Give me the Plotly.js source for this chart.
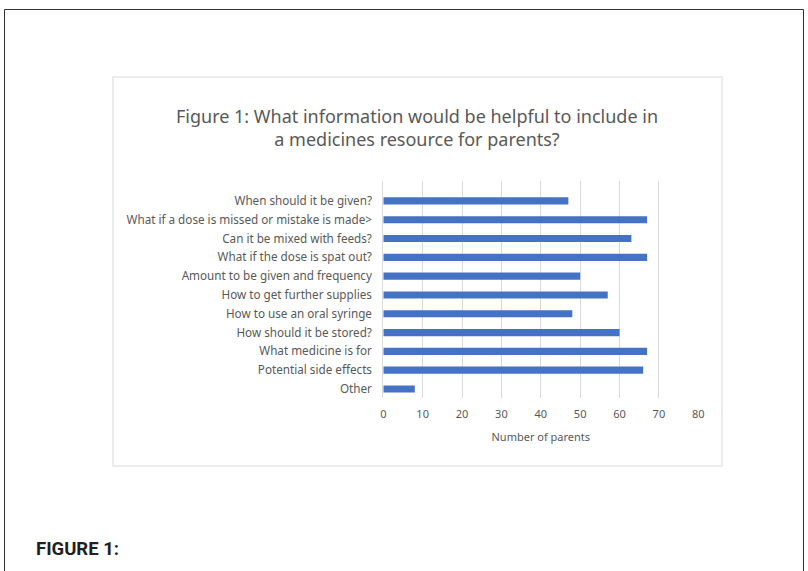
<!DOCTYPE html>
<html>
<head>
<meta charset="utf-8">
<script src="https://cdn.plot.ly/plotly-3.0.1.min.js"></script>
<style>
html,body{margin:0;padding:0;background:#fff;}
#chart{width:808px;height:571px;}
</style>
</head>
<body>
<div id="chart"></div>
<script>
const categories = [
  "When should it be given?",
  "What if a dose is missed or mistake is made>",
  "Can it be mixed with feeds?",
  "What if the dose is spat out?",
  "Amount to be given and frequency",
  "How to get further supplies",
  "How to use an oral syringe",
  "How should it be stored?",
  "What medicine is for",
  "Potential side effects",
  "Other"
];
const parents = [47, 67, 63, 67, 50, 57, 48, 60, 67, 66, 8];
const xTicks = [0, 10, 20, 30, 40, 50, 60, 70, 80];

const W = 808, H = 571;
const px = v => v / W;
const py = v => 1 - v / H;

const trace = {
  type: 'bar',
  orientation: 'h',
  x: parents,
  y: categories,
  marker: {color: '#4472C4'},
  width: 0.38,
  hoverinfo: 'x+y'
};

const layout = {
  width: W, height: H,
  margin: {l: 0, r: 0, t: 0, b: 0},
  paper_bgcolor: '#ffffff',
  plot_bgcolor: 'rgba(0,0,0,0)',
  showlegend: false,
  font: {family: 'Noto Sans, sans-serif', color: '#595959'},
  title: {
    text: 'Figure 1: What information would be helpful to include in<br>a medicines resource for parents?',
    x: px(417), xanchor: 'center',
    y: py(123), yanchor: 'middle',
    font: {size: 18, color: '#595959', family: 'Noto Sans, sans-serif'}
  },
  xaxis: {
    domain: [px(383.3), px(698.3)],
    range: [0, 80],
    tickvals: xTicks,
    ticktext: xTicks.map(String),
    showgrid: true,
    gridcolor: '#d9d9d9',
    gridwidth: 1,
    zeroline: false,
    showline: false,
    ticks: '',
    ticklabelstandoff: 8,
    tickfont: {size: 11, color: '#595959'},
    title: {text: 'Number of parents', font: {size: 11, color: '#595959'}, standoff: 13},
    automargin: false,
    fixedrange: true
  },
  yaxis: {
    domain: [py(398), py(181)],
    range: [10.48, -1.06],
    type: 'category',
    showgrid: false,
    zeroline: false,
    showline: true,
    linecolor: '#d9d9d9',
    ticks: '',
    ticklabelstandoff: 8,
    tickfont: {size: 11.7, color: '#595959'},
    automargin: false,
    fixedrange: true
  },
  shapes: [
    {type: 'rect', xref: 'paper', yref: 'paper', x0: px(4.5), x1: px(803.5), y0: py(575), y1: py(9.5),
     line: {color: '#333333', width: 1}, fillcolor: 'rgba(0,0,0,0)', layer: 'below'},
    {type: 'rect', xref: 'paper', yref: 'paper', x0: px(113), x1: px(722), y0: py(466), y1: py(77),
     line: {color: '#e6e6e6', width: 1.5}, fillcolor: 'rgba(0,0,0,0)', layer: 'below'}
  ],
  annotations: [
    {text: '<b>FIGURE 1:</b>', xref: 'paper', yref: 'paper', x: px(34), y: py(549),
     xanchor: 'left', yanchor: 'middle', showarrow: false,
     font: {size: 18.5, color: '#231f20', family: 'Roboto, sans-serif'}}
  ]
};

Plotly.newPlot('chart', [trace], layout, {displayModeBar: false, staticPlot: true});
</script>
</body>
</html>
